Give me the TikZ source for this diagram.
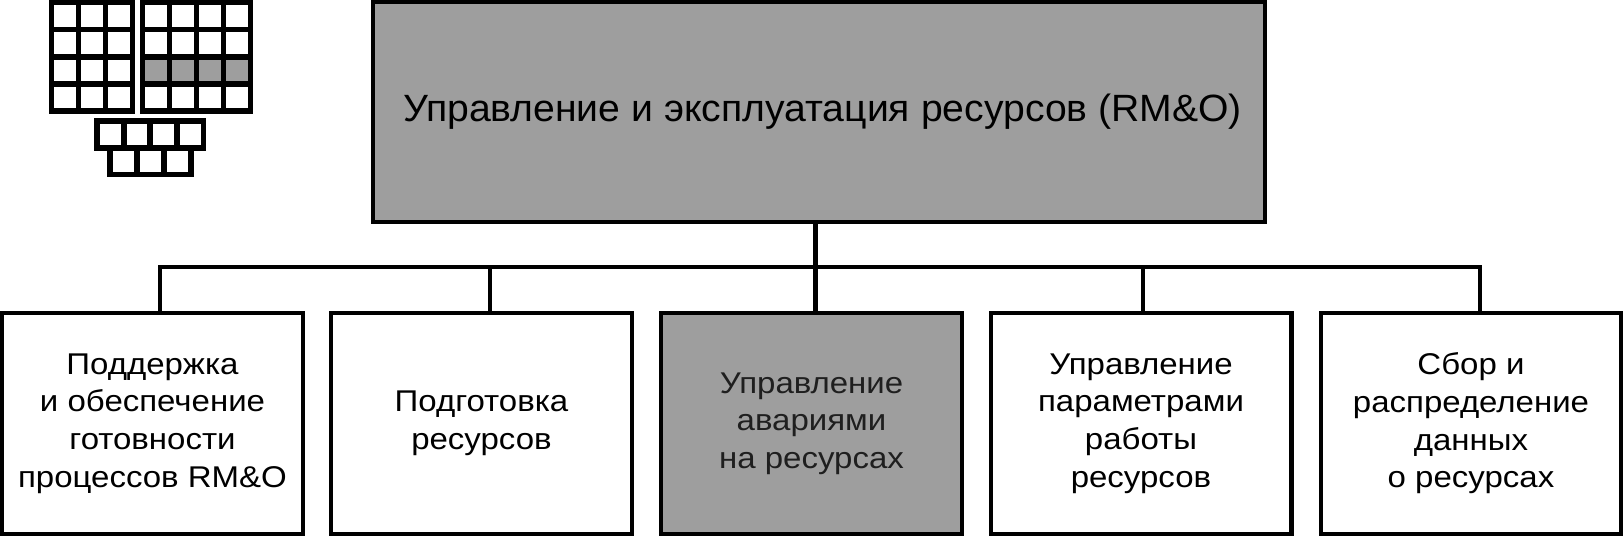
\documentclass[tikz,border=0pt]{standalone}
\usepackage{fontspec}
\setmainfont[FakeStretch=1.1]{Liberation Sans}
\newfontfamily\rootfont[FakeStretch=1.03]{Liberation Sans}
\usepackage{tikz}
\definecolor{ShadeGray}{RGB}{158,158,158}
\tikzset{
  func/.style={draw=black,line width=4.4pt,inner sep=0pt,align=center,
    minimum width=300.6pt,minimum height=220.6pt,
    font=\fontsize{30}{37.7}\selectfont},
  root/.style={draw=black,fill=ShadeGray,line width=4.4pt,inner sep=0pt,
    minimum width=891.6pt,minimum height=219.6pt,
    font=\rootfont\fontsize{38}{43}\selectfont},
  cell/.style={draw=black,line width=5.5pt,inner sep=0pt,
    minimum width=26.9pt,minimum height=27pt},
  bus/.style={draw=black,line width=4.4pt},
  stem/.style={draw=black,line width=3.2pt},
}
\begin{document}
\begin{tikzpicture}[x=1pt,y=-1pt]
\useasboundingbox (0,0) rectangle (1623,536);
\node[root] (rmo) at (819,112) {\hspace*{7pt}Управление и эксплуатация ресурсов (RM\&O)};
\node[func] (fab) at (152.5,423.5) {Поддержка\\и обеспечение\\готовности\\процессов RM\&O};
\node[func] (rpr) at (481.5,423.5) {Подготовка\\ресурсов};
\node[func,fill=ShadeGray,text=black!88] (rtm) at (811.5,423.5) {Управление\\авариями\\на ресурсах};
\node[func] (rpm) at (1141,423.5) {Управление\\параметрами\\работы\\ресурсов};
\node[func] (rdc) at (1471,423.5) {Сбор и\\распределение\\данных\\о ресурсах};
\coordinate (b1) at (160,267);
\coordinate (b2) at (490,267);
\coordinate (b3) at (815.5,267);
\coordinate (b4) at (1143,267);
\coordinate (b5) at (1480,267);
\draw[bus,line cap=rect] (b1) -- (b5);
\draw[bus] (b1) -- (b1 |- fab.north);
\draw[stem] (b2) -- (b2 |- rpr.north);
\draw[bus] (b3) -- (b3 |- rtm.north);
\draw[bus] (b4) -- (b4 |- rpm.north);
\draw[bus] (b5) -- (b5 |- rdc.north);
\draw[bus] (b3) -- (b3 |- rmo.south);
\foreach \r in {0,...,3}
  \foreach \c in {0,...,2}
    \node[cell] (a\r\c) at ({65+27*\c},{16+27.2*\r}) {};
\foreach \r in {0,1,3}
  \foreach \c in {0,...,3}
    \node[cell] (m\r\c) at ({156+27*\c},{16+27.2*\r}) {};
\foreach \c in {0,...,3}
  \node[cell,fill=ShadeGray] (m2\c) at ({156+27*\c},70.4) {};
\foreach \c in {0,...,3}
  \node[cell] (s\c) at ({110.5+26.5*\c},134.5) {};
\foreach \c in {0,...,2}
  \node[cell] (t\c) at ({123.5+27*\c},161) {};
\end{tikzpicture}
\end{document}
